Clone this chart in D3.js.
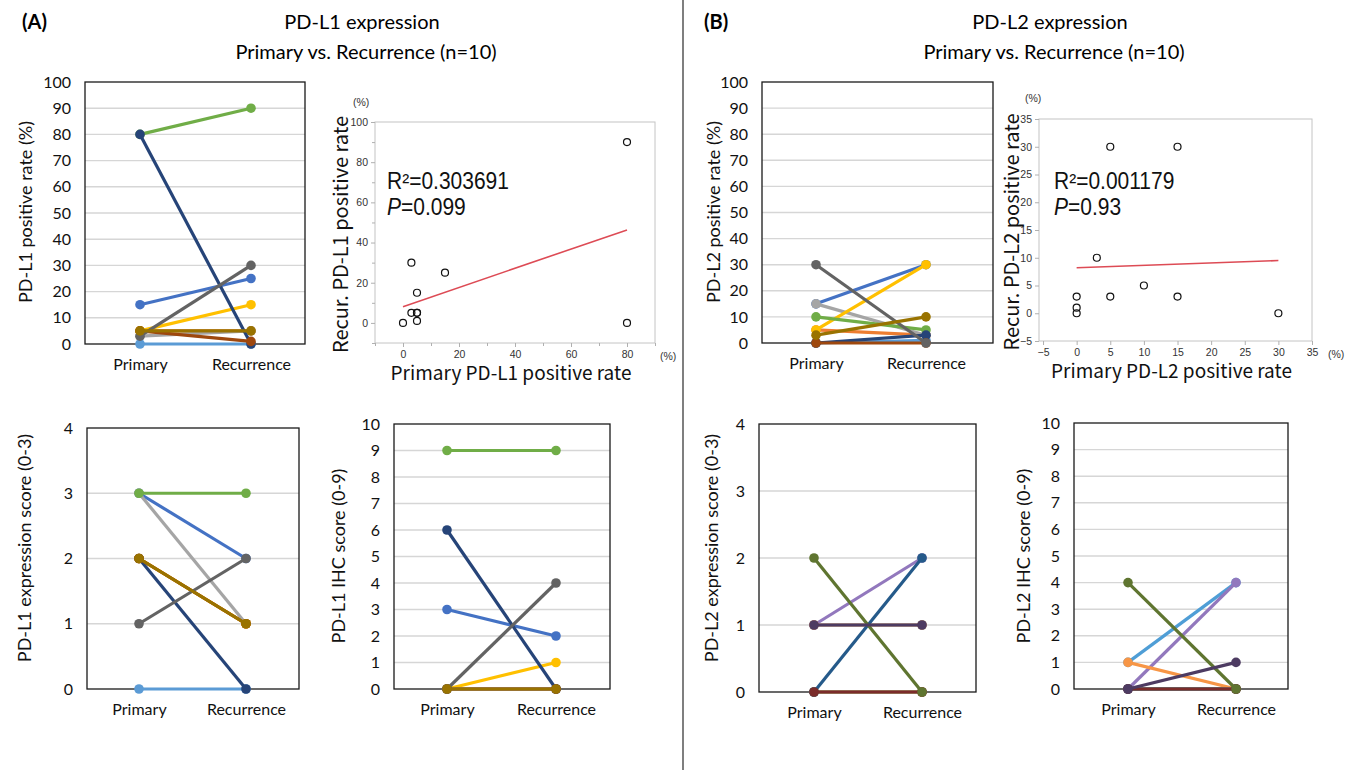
<!DOCTYPE html>
<html>
<head>
<meta charset="utf-8">
<script src="https://cdn.jsdelivr.net/npm/d3@7"></script>
<style>
  body { margin: 0; background: #fff; }
  svg { display: block; }
</style>
</head>
<body>
<svg width="1346" height="770"></svg>
<script>
// ---- data ----
let groups = ['Primary', 'Recurrence']

// Excel-style series colours used in the PD-L1 panels and the PD-L2 rate panel
let colorsA = ['#4472C4', '#ED7D31', '#A5A5A5', '#FFC000', '#5B9BD5', '#70AD47', '#264478', '#9E480E', '#636363', '#997300']
// colours of the PD-L2 score panels
let colorsB = ['#4F81BD', '#C0504D', '#9BBB59', '#4F9ED6', '#9278BD', '#F79646', '#255A8A', '#7B2C2A', '#5F7530', '#4D3B62']

let l1RatePrimary = [15, 5, 3, 5, 0, 80, 80, 5, 3, 5]
let l1RateRecur   = [25, 5, 5, 15, 0, 90, 0, 1, 30, 5]
let l1ExprPrimary = [3, 2, 3, 2, 0, 3, 2, 2, 1, 2]
let l1ExprRecur   = [2, 1, 1, 1, 0, 3, 0, 1, 2, 1]
let l1IhcPrimary  = [3, 0, 0, 0, 0, 9, 6, 0, 0, 0]
let l1IhcRecur    = [2, 0, 0, 1, 0, 9, 0, 0, 4, 0]

let l2RatePrimary = [15, 5, 15, 5, 0, 10, 0, 0, 30, 3]
let l2RateRecur   = [30, 3, 3, 30, 1, 5, 3, 0, 0, 10]
let l2ExprPrimary = [0, 0, 0, 1, 1, 1, 0, 0, 2, 1]
let l2ExprRecur   = [0, 0, 0, 1, 2, 1, 2, 0, 0, 1]
let l2IhcPrimary  = [0, 0, 0, 1, 0, 1, 0, 0, 4, 0]
let l2IhcRecur    = [0, 0, 0, 4, 4, 0, 0, 0, 0, 1]

// regression lines as drawn (endpoints)
let l1Fit = [[0, 8.1], [80, 46.3]]
let l2Fit = [[0, 8.2], [30, 9.5]]
let l1Stats = { r2: '0.303691', p: '0.099' }
let l2Stats = { r2: '0.001179', p: '0.93' }

let l1ScatterXTicks = [0, 20, 40, 60, 80]
let l1ScatterYTicks = [0, 20, 40, 60, 80, 100]
let l2ScatterTicks = [-5, 0, 5, 10, 15, 20, 25, 30, 35]

let svg = d3.select('svg')
let font = 'Lato, "Open Sans", sans-serif'
let sFont = '"Noto Sans CJK JP", "Noto Sans", sans-serif'
let aFont = '"Liberation Sans", Arial, sans-serif'

// ---- headers ----
let headers = [
  { tag: '(A)', tx: 22, title: 'PD-L1 expression', cx: 362 },
  { tag: '(B)', tx: 704, title: 'PD-L2 expression', cx: 1050 }
]
headers.forEach((h) => {
  svg.append('text').attr('x', h.tx).attr('y', 29).text(h.tag)
    .style('font-family', font).style('font-size', '20px').style('font-weight', 'bold')
  svg.append('text').attr('x', h.cx).attr('y', 29).attr('text-anchor', 'middle').text(h.title)
    .style('font-family', font).style('font-size', '20px')
  svg.append('text').attr('x', h.cx + 4).attr('y', 59).attr('text-anchor', 'middle').text('Primary vs. Recurrence (n=10)')
    .style('font-family', font).style('font-size', '20px')
})

svg.append('line').attr('x1', 683).attr('x2', 683).attr('y1', 0).attr('y2', 770)
  .attr('stroke', '#555').attr('stroke-width', 1.5)

// ---- paired slope chart ----
let slopeChart = (o) => {
  let g = svg.append('g')
  let y = d3.scaleLinear().domain([0, o.yMax]).range([o.y1, o.y0])
  let x = d3.scalePoint().domain(groups).range([o.xPrim, o.xRec])
  let ticks = d3.range(0, o.yMax + 0.001, o.step)

  g.selectAll('line.grid')
    .data(ticks.filter((t) => t > 0 && t < o.yMax))
    .enter()
    .append('line')
    .attr('x1', o.x0).attr('x2', o.x1)
    .attr('y1', (d) => y(d)).attr('y2', (d) => y(d))
    .attr('stroke', '#d6d6d6').attr('stroke-width', 1.4)

  g.append('rect')
    .attr('x', o.x0).attr('y', o.y0)
    .attr('width', o.x1 - o.x0).attr('height', o.y1 - o.y0)
    .attr('fill', 'none').attr('stroke', '#1a1a1a').attr('stroke-width', 1.3)

  let ay = g.append('g').attr('transform', `translate(${o.x0},0)`)
    .call(d3.axisLeft(y).tickValues(ticks).tickFormat(d3.format('d')).tickSize(0).tickPadding(14))
  ay.select('.domain').remove()
  ay.selectAll('text').style('font-family', font).style('font-size', '16px').attr('fill', '#111')

  let ax = g.append('g').attr('transform', `translate(0,${o.y1})`)
    .call(d3.axisBottom(x).tickSize(0).tickPadding(15))
  ax.select('.domain').remove()
  ax.selectAll('text').style('font-family', font).style('font-size', '16px').attr('fill', '#111')

  g.append('text')
    .attr('transform', `translate(${o.labelX},${o.labelY}) rotate(-90)`)
    .attr('text-anchor', 'middle').attr('dy', '0.35em')
    .text(o.label)
    .style('font-family', font).style('font-size', '18px').attr('fill', '#111')

  let series = g.selectAll('g.series')
    .data(d3.range(o.primary.length))
    .enter()
    .append('g')
  series.append('line')
    .attr('x1', x('Primary')).attr('x2', x('Recurrence'))
    .attr('y1', (i) => y(o.primary[i])).attr('y2', (i) => y(o.recur[i]))
    .attr('stroke', (i) => o.colors[i]).attr('stroke-width', 3.2)
  series.append('circle')
    .attr('cx', x('Primary')).attr('cy', (i) => y(o.primary[i])).attr('r', 4.8)
    .attr('fill', (i) => o.colors[i])
  series.append('circle')
    .attr('cx', x('Recurrence')).attr('cy', (i) => y(o.recur[i])).attr('r', 4.8)
    .attr('fill', (i) => o.colors[i])
}

// ---- scatter with fit ----
let scatterChart = (o) => {
  let g = svg.append('g')
  let x = d3.scaleLinear().domain(o.xDom).range([o.x0, o.x1])
  let y = d3.scaleLinear().domain(o.yDom).range([o.y1, o.y0])

  g.append('rect')
    .attr('x', o.x0).attr('y', o.y0)
    .attr('width', o.x1 - o.x0).attr('height', o.y1 - o.y0)
    .attr('fill', 'none').attr('stroke', '#c4c4c4').attr('stroke-width', 1)

  let ax = g.append('g').attr('transform', `translate(0,${o.y1})`)
    .call(d3.axisBottom(x).tickValues(o.xTicks).tickSize(4).tickPadding(4))
  let ay = g.append('g').attr('transform', `translate(${o.x0},0)`)
    .call(d3.axisLeft(y).tickValues(o.yTicks).tickSize(4).tickPadding(3))
  ;[ax, ay].forEach((a) => {
    a.select('.domain').remove()
    a.selectAll('line').attr('stroke', '#b0b0b0')
    a.selectAll('text').style('font-family', aFont)
      .style('font-size', '10.5px').attr('fill', '#333')
  })
  if (o.xMinor) {
    let minor = (a) => { a.select('.domain').remove(); a.selectAll('text').remove(); a.selectAll('line').attr('stroke', '#b0b0b0') }
    g.append('g').attr('transform', `translate(0,${o.y1})`)
      .call(d3.axisBottom(x).tickValues(o.xMinor).tickSize(3))
      .call(minor)
    g.append('g').attr('transform', `translate(${o.x0},0)`)
      .call(d3.axisLeft(y).tickValues(o.yMinor).tickSize(3))
      .call(minor)
  }

  g.append('path')
    .datum(o.fit)
    .attr('d', d3.line().x((d) => x(d[0])).y((d) => y(d[1])))
    .attr('stroke', '#dd4b55').attr('stroke-width', 1.6).attr('fill', 'none')

  g.selectAll('circle')
    .data(d3.range(o.xs.length))
    .enter()
    .append('circle')
    .attr('cx', (i) => x(o.xs[i])).attr('cy', (i) => y(o.ys[i])).attr('r', 3.5)
    .attr('fill', 'none').attr('stroke', '#111').attr('stroke-width', 1.2)

  let pct = (px, py) => g.append('text').attr('x', px).attr('y', py).text('(%)')
    .style('font-family', aFont).style('font-size', '10.5px').attr('fill', '#333')
  pct(o.x0 + o.pctTop[0], o.y0 + o.pctTop[1])
  pct(o.x1 + o.pctRight, o.y1 + 17)

  g.append('text')
    .attr('transform', `translate(${o.ylabX},${(o.y0 + o.y1) / 2 + 2}) rotate(-90)`)
    .attr('text-anchor', 'middle').attr('dy', '0.35em').text(o.ylabel)
    .style('font-family', sFont).style('font-size', '20px').attr('fill', '#111')
  g.append('text')
    .attr('x', (o.x0 + o.x1) / 2 - 4).attr('y', o.y1 + 37)
    .attr('text-anchor', 'middle').text(o.xlabel)
    .style('font-family', sFont).style('font-size', '19px').attr('fill', '#111')

  g.append('text')
    .attr('transform', `translate(${o.tx},${o.ty}) scale(1,1.1)`)
    .style('font-family', aFont).style('font-size', '21px').attr('fill', '#111')
    .text('R\u00b2=' + o.stats.r2)
  let p = g.append('text')
    .attr('transform', `translate(${o.tx},${o.ty + 26}) scale(1,1.1)`)
    .style('font-family', aFont).style('font-size', '21px').attr('fill', '#111')
  p.append('tspan').text('P').style('font-style', 'italic')
  p.append('tspan').text('=' + o.stats.p)
}

// ---- panel A ----
slopeChart({ x0: 85, x1: 305, y0: 82, y1: 344, yMax: 100, step: 10, xPrim: 140, xRec: 251,
  labelX: 26, labelY: 212, label: 'PD-L1 positive rate (%)',
  primary: l1RatePrimary, recur: l1RateRecur, colors: colorsA })
slopeChart({ x0: 87, x1: 299, y0: 428, y1: 689, yMax: 4, step: 1, xPrim: 139, xRec: 246,
  labelX: 25, labelY: 548, label: 'PD-L1 expression score (0-3)',
  primary: l1ExprPrimary, recur: l1ExprRecur, colors: colorsA })
slopeChart({ x0: 394, x1: 610, y0: 424, y1: 689, yMax: 10, step: 1, xPrim: 447, xRec: 556,
  labelX: 339, labelY: 556, label: 'PD-L1 IHC score (0-9)',
  primary: l1IhcPrimary, recur: l1IhcRecur, colors: colorsA })
scatterChart({ x0: 375, x1: 655, y0: 122, y1: 343, xDom: [-10, 90], yDom: [-10, 100],
  xTicks: l1ScatterXTicks, yTicks: l1ScatterYTicks,
  xMinor: [-10, 10, 30, 50, 70, 90], yMinor: [-10, 10, 30, 50, 70, 90],
  xs: l1RatePrimary, ys: l1RateRecur, fit: l1Fit, stats: l1Stats, tx: 387, ty: 189,
  pctTop: [-22, -16], pctRight: 5,
  ylabX: 341, ylabel: 'Recur. PD-L1 positive rate', xlabel: 'Primary PD-L1 positive rate' })

// ---- panel B ----
slopeChart({ x0: 762, x1: 993, y0: 82, y1: 343, yMax: 100, step: 10, xPrim: 816, xRec: 926,
  labelX: 714, labelY: 212, label: 'PD-L2 positive rate (%)',
  primary: l2RatePrimary, recur: l2RateRecur, colors: colorsA })
slopeChart({ x0: 759, x1: 976, y0: 424, y1: 692, yMax: 4, step: 1, xPrim: 814, xRec: 922,
  labelX: 712, labelY: 548, label: 'PD-L2 expression score (0-3)',
  primary: l2ExprPrimary, recur: l2ExprRecur, colors: colorsB })
slopeChart({ x0: 1074, x1: 1288, y0: 423, y1: 689, yMax: 10, step: 1, xPrim: 1128, xRec: 1236,
  labelX: 1024, labelY: 556, label: 'PD-L2 IHC score (0-9)',
  primary: l2IhcPrimary, recur: l2IhcRecur, colors: colorsB })
scatterChart({ x0: 1039, x1: 1312, y0: 119, y1: 341, xDom: [-5.6, 35], yDom: [-5, 35],
  xTicks: l2ScatterTicks, yTicks: l2ScatterTicks,
  xs: l2RatePrimary, ys: l2RateRecur, fit: l2Fit, stats: l2Stats, tx: 1054, ty: 189,
  pctTop: [-14, -17], pctRight: 16,
  ylabX: 1012, ylabel: 'Recur. PD-L2 positive rate', xlabel: 'Primary PD-L2 positive rate' })
</script>
</body>
</html>
